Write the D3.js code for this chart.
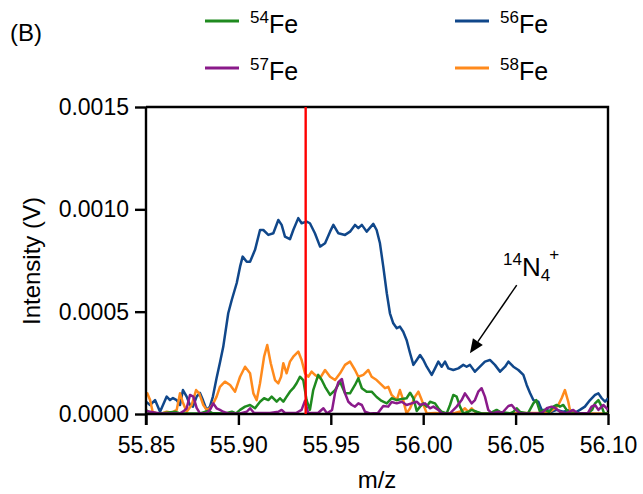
<!DOCTYPE html>
<html>
  <head>
    <title>Fe isotopes</title>
    <meta charset="UTF-8" />
    <style>
      body { margin: 0; background: #fff; }
      text { font-family: "Liberation Sans", Arial, sans-serif; fill: #000; }
    </style>
  </head>
  <body>
    <script src="https://cdn.jsdelivr.net/npm/d3@7"></script>
    <script>
      // [m/z, intensity (V)]
      var fe56 = [[55.8500,0.00006],[55.8522,0.000044],[55.8549,0.000068],[55.8576,0.000011],[55.8592,0.000044],
        [55.8612,0.000085],[55.8630,0.000068],[55.8646,0.000078],[55.8666,0.000068],[55.8684,0.000044],
        [55.8700,0.000117],[55.8720,0.000085],[55.8738,0.000044],[55.8754,0.000036],[55.8774,0.000085],
        [55.8792,0.000103],[55.8808,0.000068],[55.8828,0.00002],[55.8846,0.000036],[55.8862,0.000085],
        [55.8882,0.000176],[55.8900,0.00025],[55.8918,0.000328],[55.8945,0.000492],[55.8964,0.000557],
        [55.8991,0.00064],[55.9009,0.00072],[55.9023,0.000769],[55.9045,0.000744],[55.9063,0.000744],
        [55.9090,0.000802],[55.9117,0.000899],[55.9135,0.000899],[55.9162,0.000875],[55.9189,0.000883],
        [55.9216,0.000948],[55.9234,0.000924],[55.9252,0.000867],[55.9279,0.000854],[55.9297,0.000899],
        [55.9324,0.000957],[55.9342,0.000932],[55.9369,0.00094],[55.9387,0.000932],[55.9414,0.000883],
        [55.9442,0.000818],[55.9469,0.000834],[55.9496,0.000891],[55.9514,0.000924],[55.9541,0.000883],
        [55.9577,0.000875],[55.9604,0.000891],[55.9631,0.000924],[55.9649,0.000908],[55.9668,0.000924],
        [55.9694,0.000891],[55.9730,0.000929],[55.9748,0.000899],[55.9766,0.000834],[55.9784,0.00072],
        [55.9803,0.00059],[55.9820,0.000492],[55.9838,0.000443],[55.9857,0.000419],[55.9874,0.000427],
        [55.9892,0.000402],[55.9910,0.000362],[55.9929,0.000297],[55.9947,0.00024],[55.9965,0.000264],
        [55.9983,0.000288],[56.0001,0.000264],[56.0019,0.000231],[56.0046,0.000191],[56.0064,0.000223],
        [56.0082,0.000256],[56.0100,0.000231],[56.0118,0.000256],[56.0136,0.000223],[56.0163,0.000215],
        [56.0190,0.000223],[56.0217,0.00024],[56.0235,0.000231],[56.0253,0.00024],[56.0280,0.000207],
        [56.0307,0.000231],[56.0334,0.000256],[56.0361,0.000264],[56.0388,0.00024],[56.0416,0.000207],
        [56.0443,0.000231],[56.0461,0.000256],[56.0488,0.000231],[56.0515,0.000215],[56.0542,0.000191],
        [56.0560,0.000142],[56.0578,0.000103],[56.0596,0.000068],[56.0623,0.00006],[56.0641,0.00002],
        [56.0668,0.00002],[56.0695,0.000011],[56.0722,0.00002],[56.0758,0.000011],[56.0794,0.00002],
        [56.0821,0.000006],[56.0848,0.00002],[56.0875,0.000036],[56.0903,0.000068],[56.0930,0.000093],
        [56.0948,0.000101],[56.0966,0.000077],[56.0984,0.00006],[56.1000,0.000077]];

      var fe58 = [[55.8500,0.000093],[55.8507,0.000101],[55.8522,0.000068],[55.8536,0.000011],[55.8558,0.000003],
        [55.8585,0.000003],[55.8612,0.000011],[55.8639,0.000006],[55.8666,0.00002],[55.8684,0.000101],
        [55.8698,0.00006],[55.8720,0.000011],[55.8747,0.000044],[55.8771,0.000117],[55.8788,0.000101],
        [55.8810,0.000044],[55.8828,0.00002],[55.8846,0.000028],[55.8864,0.000052],[55.8882,0.000085],
        [55.8900,0.000133],[55.8927,0.000158],[55.8955,0.000142],[55.8982,0.000109],[55.9009,0.000182],
        [55.9036,0.000231],[55.9063,0.000199],[55.9081,0.000101],[55.9099,0.000068],[55.9117,0.00015],
        [55.9139,0.00028],[55.9156,0.000337],[55.9175,0.000248],[55.9198,0.000166],[55.9216,0.00015],
        [55.9231,0.000182],[55.9243,0.000248],[55.9261,0.000199],[55.9279,0.000256],[55.9297,0.00028],
        [55.9324,0.000305],[55.9342,0.000264],[55.9360,0.000199],[55.9378,0.000182],[55.9396,0.000207],
        [55.9414,0.000191],[55.9442,0.000175],[55.9469,0.000215],[55.9496,0.000182],[55.9523,0.000166],
        [55.9550,0.000199],[55.9577,0.00024],[55.9604,0.000256],[55.9631,0.000215],[55.9649,0.000182],
        [55.9676,0.000191],[55.9703,0.000215],[55.9721,0.000182],[55.9748,0.000166],[55.9775,0.000142],
        [55.9793,0.000126],[55.9811,0.000133],[55.9829,0.000093],[55.9857,0.000068],[55.9874,0.000117],
        [55.9892,0.000068],[55.9910,0.000003],[55.9929,0.000028],[55.9956,0.000085],[55.9974,0.000109],
        [55.9992,0.000068],[56.0019,0.000003],[56.0064,0.000005],[56.0118,0.000003],[56.0172,0.000005],
        [56.0210,0.000015],[56.0226,0.000028],[56.0244,0.000011],[56.0262,0.000028],[56.0280,0.000011],
        [56.0307,0.000003],[56.0416,0.000003],[56.0524,0.000005],[56.0632,0.000005],[56.0686,0.000011],
        [56.0713,0.000028],[56.0731,0.000044],[56.0749,0.000077],[56.0767,0.000117],[56.0785,0.00006],
        [56.0794,0.00002],[56.0821,0.000003],[56.1000,0.000003]];

      var fe54 = [[55.8500,0.00002],[55.8522,0.000005],[55.8576,0.000003],[55.8657,0.000011],[55.8684,0.000003],
        [55.8792,0.000003],[55.8835,0.000015],[55.8857,0.000005],[55.8927,0.000003],[55.8965,0.000011],
        [55.8987,0.000003],[55.9009,0.00002],[55.9036,0.000036],[55.9063,0.000044],[55.9090,0.000028],
        [55.9117,0.00006],[55.9139,0.000077],[55.9162,0.000068],[55.9180,0.000085],[55.9207,0.00006],
        [55.9225,0.000077],[55.9243,0.00006],[55.9261,0.000085],[55.9279,0.000109],[55.9297,0.000126],
        [55.9315,0.00015],[55.9333,0.000182],[55.9351,0.000166],[55.9369,0.000068],[55.9387,0.00002],
        [55.9405,0.000117],[55.9432,0.000191],[55.9451,0.000166],[55.9469,0.000133],[55.9496,0.000093],
        [55.9523,0.000117],[55.9550,0.000158],[55.9577,0.000101],[55.9604,0.000101],[55.9631,0.000142],
        [55.9649,0.000175],[55.9668,0.000126],[55.9694,0.000109],[55.9721,0.000109],[55.9748,0.000083],
        [55.9775,0.000064],[55.9803,0.000052],[55.9829,0.000077],[55.9857,0.000068],[55.9884,0.000073],
        [55.9910,0.000077],[55.9929,0.000104],[55.9947,0.000077],[55.9965,0.000015],[55.9983,0.000036],
        [56.0001,0.000052],[56.0019,0.000036],[56.0037,0.00006],[56.0064,0.000052],[56.0082,0.000028],
        [56.0100,0.000011],[56.0127,0.000003],[56.0145,0.000044],[56.0163,0.000093],[56.0181,0.000085],
        [56.0199,0.000036],[56.0217,0.000003],[56.0244,0.000011],[56.0262,0.00002],[56.0289,0.000011],
        [56.0316,0.000003],[56.0361,0.000003],[56.0397,0.00002],[56.0416,0.00001],[56.0470,0.000003],
        [56.0488,0.000011],[56.0506,0.000028],[56.0524,0.00001],[56.0567,0.000003],[56.0596,0.000052],
        [56.0612,0.000068],[56.0632,0.000011],[56.0659,0.00002],[56.0681,0.00001],[56.0704,0.000036],
        [56.0722,0.000044],[56.0740,0.000036],[56.0758,0.000044],[56.0776,0.00002],[56.0794,0.000003],
        [56.0892,0.000003],[56.0914,0.00002],[56.0930,0.000052],[56.0948,0.000068],[56.0966,0.000036],
        [56.0979,0.000003],[56.1000,0.000003]];

      var fe57 = [[55.8500,0.000015],[55.8576,0.000003],[55.8684,0.000003],[55.8706,0.000015],[55.8720,0.000028],
        [55.8738,0.000093],[55.8756,0.000085],[55.8774,0.00003],[55.8792,0.000003],[55.8830,0.000005],
        [55.8846,0.00002],[55.8864,0.000052],[55.8882,0.000028],[55.8900,0.00002],[55.8918,0.000011],
        [55.8944,0.000003],[55.9009,0.000003],[55.9045,0.000011],[55.9063,0.000028],[55.9085,0.000005],
        [55.9171,0.000005],[55.9216,0.000011],[55.9234,0.00002],[55.9252,0.000005],[55.9312,0.000005],
        [55.9342,0.00002],[55.9360,0.000064],[55.9378,0.000005],[55.9431,0.000005],[55.9460,0.000028],
        [55.9480,0.000003],[55.9507,0.00002],[55.9523,0.000103],[55.9541,0.000156],[55.9560,0.000171],
        [55.9577,0.000101],[55.9595,0.00006],[55.9614,0.000044],[55.9631,0.000036],[55.9649,0.000052],
        [55.9668,0.000044],[55.9685,0.000011],[55.9712,0.000003],[55.9755,0.000005],[55.9784,0.000039],
        [55.9811,0.000036],[55.9829,0.000059],[55.9857,0.000052],[55.9884,0.00006],[55.9910,0.000044],
        [55.9937,0.000052],[55.9965,0.00006],[55.9983,0.000044],[56.0010,0.000052],[56.0037,0.000028],
        [56.0055,0.000036],[56.0082,0.00002],[56.0100,0.000003],[56.0145,0.000003],[56.0181,0.000036],
        [56.0208,0.000068],[56.0226,0.000101],[56.0244,0.000077],[56.0262,0.000052],[56.0280,0.000068],
        [56.0298,0.000109],[56.0316,0.000126],[56.0334,0.000085],[56.0352,0.00002],[56.0372,0.000003],
        [56.0407,0.000011],[56.0427,0.000005],[56.0461,0.000039],[56.0479,0.000044],[56.0497,0.000024],
        [56.0524,0.000003],[56.0632,0.000003],[56.0650,0.000011],[56.0668,0.000028],[56.0695,0.000036],
        [56.0713,0.00003],[56.0740,0.000011],[56.0773,0.000003],[56.0812,0.00002],[56.0837,0.000003],
        [56.0892,0.000005],[56.0911,0.000036],[56.0930,0.000044],[56.0948,0.00002],[56.0975,0.000044],
        [56.0993,0.000028],[56.1000,0.00002]];

      var xTicks = [55.85, 55.90, 55.95, 56.00, 56.05, 56.10];
      var yTicks = [0, 0.0005, 0.0010, 0.0015];
      var markerMz = 55.9364;
      // arrow for the 14N4+ label: [m/z, V] from -> to
      var arrowFrom = [56.0506, 0.00063], arrowTo = [56.0253, 0.000297];

      var series = [
        { name: "56", data: fe56, c: "#10478a" },
        { name: "58", data: fe58, c: "#ff8a1c" },
        { name: "54", data: fe54, c: "#1f8a1f" },
        { name: "57", data: fe57, c: "#8a1a8a" }
      ];
      var legendItems = [
        { name: "54", c: "#1f8a1f" }, { name: "56", c: "#10478a" },
        { name: "57", c: "#8a1a8a" }, { name: "58", c: "#ff8a1c" }
      ];

      var W = 643, H = 494;
      var m = { left: 146, right: 608, top: 107, bottom: 414 };
      var fs = 23;

      var svg = d3.select("body").append("svg")
        .attr("width", W).attr("height", H);

      var x = d3.scaleLinear().domain([55.85, 56.10]).range([m.left, m.right]);
      var y = d3.scaleLinear().domain([0, 0.0015]).range([m.bottom, m.top]);

      svg.append("defs").append("clipPath").attr("id", "clip")
        .append("rect").attr("x", m.left).attr("y", m.top - 2)
        .attr("width", m.right - m.left).attr("height", m.bottom - m.top + 4);

      // frame top + right
      svg.append("path")
        .attr("d", "M" + m.left + "," + m.top + "H" + m.right + "V" + m.bottom)
        .attr("fill", "none").attr("stroke", "#000").attr("stroke-width", 2.4);

      var line = d3.line().x(function(d) { return x(d[0]); }).y(function(d) { return y(d[1]); });

      var lines = svg.append("g").attr("clip-path", "url(#clip)");
      lines.selectAll("path").data(series).enter().append("path")
        .attr("d", function(d) { return line(d.data); })
        .attr("fill", "none")
        .attr("stroke", function(d) { return d.c; })
        .attr("stroke-width", 2.5)
        .attr("stroke-linejoin", "round");

      var xAxis = svg.append("g").attr("transform", "translate(0," + m.bottom + ")")
        .call(d3.axisBottom(x).tickValues(xTicks).tickFormat(d3.format(".2f")).tickSize(11).tickPadding(12));
      var yAxis = svg.append("g").attr("transform", "translate(" + m.left + ",0)")
        .call(d3.axisLeft(y).tickValues(yTicks).tickFormat(d3.format(".4f")).tickSize(11).tickPadding(6));

      [xAxis, yAxis].forEach(function(a) {
        a.select(".domain").attr("stroke-width", 2.4);
        a.selectAll(".tick line").attr("stroke-width", 2.4);
        a.selectAll("text").style("font-size", fs + "px")
          .style("font-family", "'Liberation Sans', Arial, sans-serif");
      });
      // y axis line reaches down to the x tick length
      yAxis.select(".domain").attr("d", "M0," + m.top + "V" + (m.bottom + 11));
      xAxis.select(".domain").attr("d", "M" + m.left + ",0H" + m.right);

      // marker line
      svg.append("line")
        .attr("x1", x(markerMz)).attr("x2", x(markerMz))
        .attr("y1", m.top).attr("y2", m.bottom)
        .attr("stroke", "#ff0000").attr("stroke-width", 2.4);

      // axis titles
      svg.append("text").attr("x", (m.left + m.right) / 2).attr("y", 488)
        .attr("text-anchor", "middle").style("font-size", "24px").text("m/z");
      svg.append("text")
        .attr("transform", "translate(40,261) rotate(-90)")
        .attr("text-anchor", "middle").style("font-size", "24px").text("Intensity (V)");

      svg.append("text").attr("x", 10).attr("y", 41).style("font-size", "24px").text("(B)");

      // legend
      var lg = svg.append("g");
      var item = lg.selectAll("g").data(legendItems).enter().append("g")
        .attr("transform", function(d, i) {
          return "translate(" + (205 + (i % 2) * 250) + "," + (21 + Math.floor(i / 2) * 47) + ")";
        });
      item.append("line").attr("x1", 0).attr("x2", 34).attr("stroke", function(d) { return d.c; })
        .attr("stroke-width", 2.8);
      var lt = item.append("text").attr("x", 45).attr("y", 12).style("font-size", "25px");
      lt.append("tspan").style("font-size", "17px").attr("dy", "-10").text(function(d) { return d.name; });
      lt.append("tspan").attr("dy", "10").text("Fe");

      // annotation
      var ann = svg.append("text").attr("x", 503).attr("y", 276).style("font-size", "26px");
      ann.append("tspan").style("font-size", "17px").attr("dy", "-11").text("14");
      ann.append("tspan").attr("dy", "11").text("N");
      ann.append("tspan").style("font-size", "17px").attr("dy", "5").text("4");
      ann.append("tspan").style("font-size", "17px").attr("dx", "-1").attr("dy", "-21").text("+");

      var ax1 = x(arrowFrom[0]), ay1 = y(arrowFrom[1]), ax2 = x(arrowTo[0]), ay2 = y(arrowTo[1]);
      var ang = Math.atan2(ay2 - ay1, ax2 - ax1);
      var hl = 14, hw = 6;
      var bx = ax2 - hl * Math.cos(ang), by = ay2 - hl * Math.sin(ang);
      svg.append("line").attr("x1", ax1).attr("y1", ay1).attr("x2", bx).attr("y2", by)
        .attr("stroke", "#000").attr("stroke-width", 1.5);
      svg.append("path")
        .attr("d", "M" + ax2 + "," + ay2 +
          "L" + (bx + hw * Math.sin(ang)) + "," + (by - hw * Math.cos(ang)) +
          "L" + (bx - hw * Math.sin(ang)) + "," + (by + hw * Math.cos(ang)) + "Z")
        .attr("fill", "#000");
    </script>
  </body>
</html>
